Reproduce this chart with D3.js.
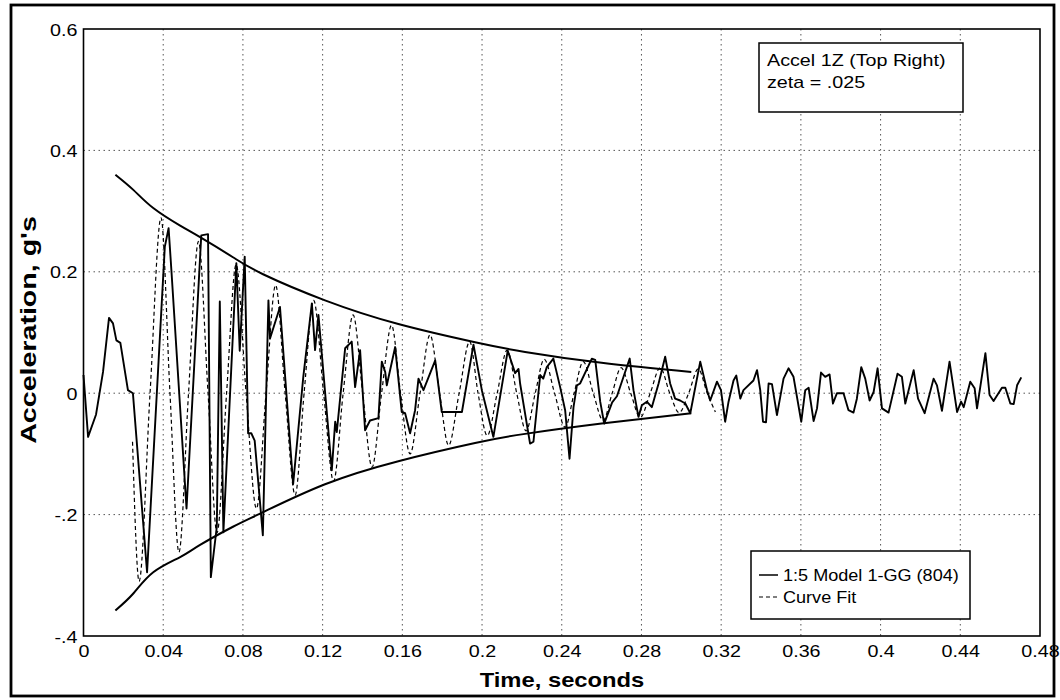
<!DOCTYPE html>
<html>
<head>
<meta charset="utf-8">
<script src="https://cdn.jsdelivr.net/npm/d3@7"></script>
<style>
  body { margin: 0; background: #fff; }
  svg { display: block; }
  text { font-family: "Liberation Sans", Arial, Helvetica, sans-serif; fill: #000; }
</style>
</head>
<body>
<svg id="chart" width="1060" height="700"></svg>
<script>
// Measured response, accelerometer 1Z (seconds, g's)
const timeMeasured = [
  0.0000, 0.0023, 0.0063, 0.0098, 0.0128, 0.0148, 0.0165, 0.0185, 0.0223, 0.0248,
  0.0319, 0.0408, 0.0427, 0.0441, 0.0517, 0.0591, 0.0625, 0.0639, 0.0669, 0.0684,
  0.0702, 0.0767, 0.0784, 0.0809, 0.0826, 0.0842, 0.0859, 0.0900, 0.0928, 0.0936,
  0.0986, 0.1052, 0.1103, 0.1146, 0.1162, 0.1179, 0.1246, 0.1263, 0.1271, 0.1313,
  0.1346, 0.1363, 0.1388, 0.1413, 0.1438, 0.1480, 0.1497, 0.1514, 0.1522, 0.1564,
  0.1597, 0.1614, 0.1639, 0.1664, 0.1681, 0.1706, 0.1765, 0.1798, 0.1899, 0.1957,
  0.1999, 0.2057, 0.2129, 0.2166, 0.2183, 0.2191, 0.2241, 0.2258, 0.2292, 0.2307,
  0.2325, 0.2358, 0.2392, 0.2417, 0.2439, 0.2459, 0.2476, 0.2492, 0.2551, 0.2568,
  0.2593, 0.2613, 0.2653, 0.2677, 0.2710, 0.2741, 0.2760, 0.2785, 0.2802, 0.2827,
  0.2852, 0.2886, 0.2919, 0.2944, 0.2969, 0.2994, 0.3020, 0.3045, 0.3095, 0.3129,
  0.3145, 0.3179, 0.3199, 0.3220, 0.3237, 0.3262, 0.3276, 0.3296, 0.3312, 0.3362,
  0.3380, 0.3396, 0.3410, 0.3425, 0.3438, 0.3455, 0.3480, 0.3513, 0.3538, 0.3563,
  0.3602, 0.3622, 0.3639, 0.3664, 0.3681, 0.3701, 0.3722, 0.3744, 0.3761, 0.3781,
  0.3814, 0.3839, 0.3864, 0.3881, 0.3903, 0.3923, 0.3945, 0.3965, 0.3985, 0.4007,
  0.4040, 0.4085, 0.4107, 0.4124, 0.4166, 0.4188, 0.4221, 0.4266, 0.4283, 0.4308,
  0.4346, 0.4384, 0.4404, 0.4417, 0.4450, 0.4472, 0.4484, 0.4526, 0.4547, 0.4567,
  0.4609, 0.4626, 0.4651, 0.4668, 0.4685, 0.4706
];
const accelMeasured = [
  0.030, -0.072, -0.035, 0.035, 0.124, 0.115, 0.087, 0.083, 0.005, 0.000,
  -0.295, 0.241, 0.272, 0.203, -0.190, 0.260, 0.262, -0.303, -0.220, 0.151,
  -0.229, 0.214, 0.070, 0.225, -0.066, -0.066, -0.078, -0.234, 0.153, 0.090,
  0.142, -0.150, 0.027, 0.148, 0.071, 0.129, -0.127, -0.047, -0.064, 0.074,
  0.085, 0.010, 0.071, -0.061, -0.045, -0.041, 0.052, 0.035, 0.013, 0.076,
  -0.031, -0.033, -0.066, -0.028, 0.024, 0.005, 0.054, -0.031, -0.031, 0.080,
  0.005, -0.072, 0.070, 0.033, 0.040, 0.016, -0.083, -0.080, 0.030, 0.024,
  0.043, 0.057, 0.010, -0.028, -0.108, -0.023, 0.013, 0.016, 0.057, 0.055,
  -0.014, -0.050, -0.015, -0.005, 0.027, 0.057, 0.005, -0.039, -0.020, -0.014,
  -0.023, 0.016, 0.060, 0.016, -0.009, -0.012, -0.017, -0.033, 0.052, 0.005,
  -0.012, 0.019, 0.005, -0.047, -0.014, 0.021, 0.029, -0.009, 0.005, 0.021,
  0.038, 0.005, -0.047, -0.048, 0.016, 0.015, -0.036, 0.024, 0.041, 0.027,
  -0.047, 0.005, 0.009, -0.046, -0.025, 0.034, 0.027, 0.031, -0.017, 0.000,
  0.000, -0.028, -0.032, -0.009, 0.043, 0.024, -0.012, 0.002, 0.041, -0.025,
  -0.032, 0.032, 0.027, -0.017, 0.038, -0.009, -0.033, 0.024, 0.013, -0.029,
  0.052, -0.031, -0.014, -0.023, 0.019, 0.008, -0.025, 0.066, -0.003, -0.013,
  0.009, 0.009, -0.017, -0.018, 0.013, 0.026
];

// Damped sine curve fit: peaks, troughs and zero crossings (seconds, g's)
const timeFit = [
  0.0246, 0.0279, 0.0334, 0.0389, 0.0434, 0.0479, 0.0527, 0.0577, 0.0625, 0.0670,
  0.0718, 0.0766, 0.0816, 0.0868, 0.0916, 0.0964, 0.1012, 0.1062, 0.1107, 0.1155,
  0.1205, 0.1255, 0.1303, 0.1353, 0.1401, 0.1448, 0.1496, 0.1546, 0.1591, 0.1639,
  0.1689, 0.1739, 0.1787, 0.1832, 0.1885, 0.1938, 0.1980, 0.2026, 0.2076, 0.2126,
  0.2174, 0.2221, 0.2267, 0.2312, 0.2364, 0.2417, 0.2462, 0.2508, 0.2558, 0.2608,
  0.2653, 0.2698, 0.2746, 0.2794, 0.2844, 0.2894, 0.2942, 0.2989, 0.3037, 0.3085,
  0.3130, 0.3171
];
const accelFit = [
  -0.080, -0.310, 0, 0.289, 0, -0.262, 0, 0.250, 0, -0.230,
  0, 0.212, 0, -0.190, 0, 0.178, 0, -0.168, 0, 0.153,
  0, -0.145, 0, 0.129, 0, -0.122, 0, 0.112, 0, -0.100,
  0, 0.096, 0, -0.086, 0, 0.085, 0, -0.070, 0, 0.071,
  0, -0.062, 0, 0.056, 0, -0.056, 0, 0.052, 0, -0.045,
  0, 0.042, 0, -0.040, 0, 0.042, 0, -0.032, 0, 0.040,
  0, -0.031
];

// Decay envelope for zeta = .025
const envTime  = [0.016, 0.025, 0.035, 0.0485, 0.0585, 0.075, 0.0901, 0.1212, 0.158, 0.1965, 0.2216, 0.26, 0.305];
const envUpper = [0.360, 0.335, 0.305, 0.276, 0.257, 0.224, 0.196, 0.153, 0.114, 0.084, 0.068, 0.050, 0.035];
const envLower = [-0.358, -0.330, -0.295, -0.270, -0.250, -0.220, -0.196, -0.150, -0.112, -0.082, -0.067, -0.050, -0.033];

// Axis ticks
const xTicks = [0, 0.04, 0.08, 0.12, 0.16, 0.2, 0.24, 0.28, 0.32, 0.36, 0.4, 0.44, 0.48];
const xTickLabels = ["0", "0.04", "0.08", "0.12", "0.16", "0.2", "0.24", "0.28", "0.32", "0.36", "0.4", "0.44", "0.48"];
const yTicks = [0.6, 0.4, 0.2, 0, -0.2, -0.4];
const yTickLabels = ["0.6", "0.4", "0.2", "0", "-.2", "-.4"];

const legendLabels = ["1:5 Model 1-GG (804)", "Curve Fit"];
const noteLines = ["Accel 1Z (Top Right)", "zeta = .025"];

const svg = d3.select("#chart");
const plot = { left: 83.5, right: 1040, top: 29, bottom: 636 };
const SX = 1.16; // horizontal widening applied to the lettering

const x = d3.scaleLinear().domain([0, 0.48]).range([plot.left, plot.right]);
const y = d3.scaleLinear().domain([-0.4, 0.6]).range([plot.bottom, plot.top]);

// outer frame
svg.append("rect").attr("x", 11).attr("y", 5).attr("width", 1043).attr("height", 691)
  .attr("fill", "#fff").attr("stroke", "#000").attr("stroke-width", 2.8);

// dotted grid
const grid = svg.append("g").attr("stroke", "#555").attr("stroke-width", 1).attr("stroke-dasharray", "1.5,3.5");
grid.selectAll("line.v").data(xTicks.slice(1, -1)).join("line").attr("class", "v")
  .attr("x1", d => x(d)).attr("x2", d => x(d)).attr("y1", plot.top).attr("y2", plot.bottom);
grid.selectAll("line.h").data(yTicks.slice(1, -1)).join("line").attr("class", "h")
  .attr("x1", plot.left).attr("x2", plot.right).attr("y1", d => y(d)).attr("y2", d => y(d));

// plot border
svg.append("rect").attr("x", plot.left).attr("y", plot.top)
  .attr("width", plot.right - plot.left).attr("height", plot.bottom - plot.top)
  .attr("fill", "none").attr("stroke", "#000").attr("stroke-width", 1.6);

// x axis labels
const gx = svg.append("g").attr("transform", `translate(0,${plot.bottom})`)
  .call(d3.axisBottom(x).tickValues(xTicks).tickSize(0).tickPadding(0)
    .tickFormat((d, i) => xTickLabels[i]));
gx.select(".domain").remove();
gx.selectAll(".tick text").attr("font-size", 17).attr("x", 0).attr("y", 0).attr("dy", null)
  .attr("transform", `translate(0,21) scale(${SX},1)`);

// y axis labels
const gy = svg.append("g").attr("transform", `translate(${plot.left - 6},0)`)
  .call(d3.axisLeft(y).tickValues(yTicks).tickSize(0).tickPadding(0)
    .tickFormat((d, i) => yTickLabels[i]));
gy.select(".domain").remove();
gy.selectAll(".tick text").attr("font-size", 17).attr("x", 0).attr("dy", "0.36em")
  .attr("transform", `scale(${SX},1)`);

// axis titles
svg.append("text").attr("font-size", 20.5).attr("font-weight", "bold")
  .attr("text-anchor", "middle")
  .attr("transform", `translate(562,687) scale(${SX},1)`)
  .text("Time, seconds");
svg.append("text").attr("font-size", 22).attr("font-weight", "bold")
  .attr("text-anchor", "middle")
  .attr("transform", `translate(36,330) rotate(-90) scale(1.3,1)`)
  .text("Acceleration, g's");

// envelope
const lineGen = d3.line().x(d => x(d[0])).y(d => y(d[1]));
const smooth = d3.line().x(d => x(d[0])).y(d => y(d[1])).curve(d3.curveNatural);
const waveCurve = d3.line().x(d => x(d[0])).y(d => y(d[1])).curve(d3.curveMonotoneX);
[envUpper, envLower].forEach(env => {
  svg.append("path").datum(envTime.map((t, i) => [t, env[i]]))
    .attr("d", smooth).attr("fill", "none").attr("stroke", "#000").attr("stroke-width", 2);
});

// curve fit
svg.append("path").datum(timeFit.map((t, i) => [t, accelFit[i]]))
  .attr("d", waveCurve).attr("fill", "none").attr("stroke", "#000")
  .attr("stroke-width", 1.2).attr("stroke-dasharray", "4,3");

// measured signal
svg.append("path").datum(timeMeasured.map((t, i) => [t, accelMeasured[i]]))
  .attr("d", lineGen).attr("fill", "none").attr("stroke", "#000")
  .attr("stroke-width", 1.9).attr("stroke-linejoin", "round");

// note box
const note = svg.append("g");
note.append("rect").attr("x", 759).attr("y", 43).attr("width", 204).attr("height", 69)
  .attr("fill", "#fff").attr("stroke", "#000").attr("stroke-width", 1.5);
noteLines.forEach((s, i) => {
  note.append("text").attr("font-size", 17)
    .attr("transform", `translate(767,${66 + i * 22}) scale(${SX},1)`).text(s);
});

// legend
const leg = svg.append("g");
leg.append("rect").attr("x", 751).attr("y", 551).attr("width", 219).attr("height", 68)
  .attr("fill", "#fff").attr("stroke", "#000").attr("stroke-width", 1.5);
const legStyles = [{ w: 1.5, dash: null }, { w: 1.1, dash: "4,3" }];
legendLabels.forEach((s, i) => {
  const yy = 575 + i * 22;
  leg.append("line").attr("x1", 759).attr("x2", 778).attr("y1", yy).attr("y2", yy)
    .attr("stroke", "#000").attr("stroke-width", legStyles[i].w)
    .attr("stroke-dasharray", legStyles[i].dash);
  leg.append("text").attr("font-size", 16)
    .attr("transform", `translate(783,${yy + 6}) scale(1.13,1)`).text(s);
});
</script>
</body>
</html>
